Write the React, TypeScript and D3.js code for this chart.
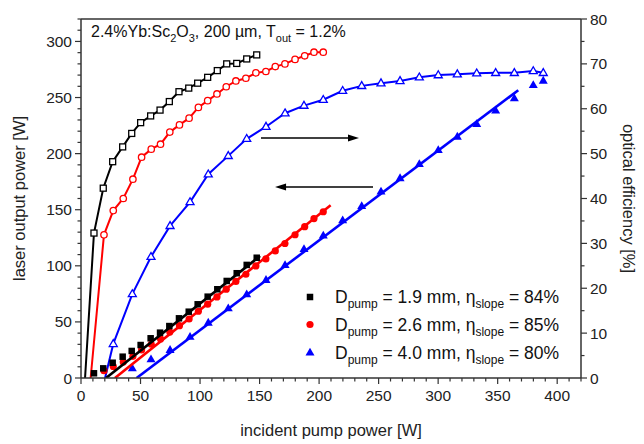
import React from "react";
import * as d3 from "d3";

// ---- data ----
// D_pump = 1.9 mm (black)
const blackPump = [10.9, 18.7, 26.6, 35.0, 42.6, 50.1, 58.5, 66.4, 74.2, 82.3, 90.5, 98.0, 106.4, 114.5, 122.4, 130.8, 139.2, 147.6];
const blackOutput = [4.2, 8.6, 13.6, 19.0, 24.1, 29.4, 35.4, 40.4, 46.3, 53.2, 59.1, 65.7, 72.5, 79.1, 86.5, 93.4, 100.8, 107.2];
const blackEff = [32.3, 42.3, 48.2, 51.5, 54.5, 56.9, 58.4, 59.7, 61.6, 63.8, 64.6, 65.7, 67.0, 68.5, 70.0, 70.1, 71.1, 72.0];
const blackThreshold = 3.4;

// D_pump = 2.6 mm (red)
const redPump = [19.3, 27.1, 35.5, 43.6, 50.9, 59.0, 66.8, 74.6, 82.7, 90.8, 98.6, 106.4, 114.2, 122.0, 130.1, 138.5, 146.9, 155.3, 163.2, 171.3, 179.8, 187.9, 195.7, 203.5];
const redOutput = [6.5, 10.3, 14.2, 19.3, 25.0, 30.1, 34.8, 40.9, 46.6, 52.6, 59.5, 65.8, 72.3, 79.2, 86.1, 92.5, 99.9, 106.1, 113.3, 119.9, 127.7, 134.9, 142.1, 148.2];
const redEff = [31.9, 37.3, 40.0, 44.3, 49.2, 51.0, 52.1, 54.8, 56.4, 57.9, 60.3, 61.8, 63.3, 64.9, 66.2, 66.8, 68.0, 68.3, 69.4, 70.0, 71.0, 71.8, 72.6, 72.6];
const redThreshold = 8.1;

// D_pump = 4.0 mm (blue)
const bluePump = [27.1, 43.1, 58.8, 74.8, 91.6, 106.9, 123.7, 139.2, 155.4, 171.4, 187.3, 203.5, 219.8, 235.8, 252.0, 268.0, 284.2, 300.1, 316.1, 332.4, 348.3, 364.0, 379.9, 388.3];
const blueOutput = [null, 8.6, 16.7, 25.0, 36.8, 49.3, 62.1, 74.6, 87.4, 100.7, 115.0, 127.0, 140.6, 153.3, 166.1, 178.1, 190.7, 203.2, 215.1, 226.4, 238.3, 249.3, 261.2, 265.0];
const blueEff = [7.6, 18.7, 27.0, 33.9, 39.2, 45.4, 49.5, 53.3, 56.0, 59.0, 60.7, 62.0, 64.0, 65.1, 65.7, 66.2, 67.0, 67.5, 67.7, 67.9, 68.0, 68.0, 68.4, 68.0];
const blueThreshold = 20.2;

// linear fits: slope, threshold, fit range end
const fitSlopes = [0.84, 0.85, 0.8];
const fitThresholds = [21, 28.5, 46.7];
const fitEnds = [150.4, 209.7, 367.3];

const legendLabels = [
  { dia: "1.9", slope: "84" },
  { dia: "2.6", slope: "85" },
  { dia: "4.0", slope: "80" },
];

const xTicks = [0, 50, 100, 150, 200, 250, 300, 350, 400];
const yLeftTicks = [0, 50, 100, 150, 200, 250, 300];
const yRightTicks = [0, 10, 20, 30, 40, 50, 60, 70, 80];

// arrows (data units)
const arrowRight = { x1: 151.2, x2: 233.5, eff: 53.5 };
const arrowLeft = { x1: 245.3, x2: 163.0, power: 170.3 };

const colors = ["#000000", "#ff0000", "#0000ff"];

export default function App() {
  const W = 644, H = 444;
  const left = 81, right = 581, top = 19, bottom = 378;
  const x = d3.scaleLinear().domain([0, 420]).range([left, right]);
  const yL = d3.scaleLinear().domain([0, 320]).range([bottom, top]);
  const yR = d3.scaleLinear().domain([0, 80]).range([bottom, top]);

  const series = [
    { pump: blackPump, out: blackOutput, eff: blackEff, th: blackThreshold, shape: "square" },
    { pump: redPump, out: redOutput, eff: redEff, th: redThreshold, shape: "circle" },
    { pump: bluePump, out: blueOutput, eff: blueEff, th: blueThreshold, shape: "triangle" },
  ];

  const line = d3.line<[number, number]>().x((d) => x(d[0])).y((d) => yR(d[1]));

  const marker = (shape: string, cx: number, cy: number, filled: boolean, color: string, key: string) => {
    const fill = filled ? color : "#fff";
    if (shape === "square") {
      const s = filled ? 6.5 : 6;
      return <rect key={key} x={cx - s / 2} y={cy - s / 2} width={s} height={s} fill={fill} stroke={color} strokeWidth={filled ? 0 : 1.3} />;
    }
    if (shape === "circle") {
      return <circle key={key} cx={cx} cy={cy} r={filled ? 3.6 : 3.2} fill={fill} stroke={color} strokeWidth={filled ? 0 : 1.3} />;
    }
    const s = filled ? 9 : 8;
    const h = s * 0.866;
    const p = `M${cx},${cy - h * 0.62}L${cx + s / 2},${cy + h * 0.38}L${cx - s / 2},${cy + h * 0.38}Z`;
    return <path key={key} d={p} fill={fill} stroke={color} strokeWidth={filled ? 0 : 1.3} />;
  };

  const font = "'Liberation Sans', Arial, sans-serif";
  const axisColor = "#333";

  const xMinor = d3.range(0, 421, 10);
  const yLMinor = d3.range(0, 321, 10);
  const yRMinor = d3.range(0, 81, 5);

  const order = [2, 1, 0];

  return (
    <svg width={W} height={H} style={{ position: "absolute", left: 0, top: 0, background: "#fff" }} fontFamily={font}>
      <defs>
        <clipPath id="plot">
          <rect x={left} y={top} width={right - left} height={bottom - top} />
        </clipPath>
      </defs>
      <rect x={0} y={0} width={W} height={H} fill="#fff" />

      <g clipPath="url(#plot)">
        {order.map((i) => {
          const s = series[i];
          const c = colors[i];
          const effPts: [number, number][] = [[s.th, 0], ...s.pump.map((p, j) => [p, s.eff[j]] as [number, number])];
          const fitLine = d3
            .line<number>()
            .x((w) => x(w))
            .y((w) => yL(fitSlopes[i] * (w - fitThresholds[i])))([fitThresholds[i], fitEnds[i]]);
          return (
            <g key={i}>
              <path d={line(effPts) || ""} fill="none" stroke={c} strokeWidth={2} />
              {s.pump.map((p, j) => marker(s.shape, x(p), yR(s.eff[j]), false, c, `e${j}`))}
              {s.pump.map((p, j) =>
                s.out[j] == null ? null : marker(s.shape, x(p), yL(s.out[j] as number), true, c, `o${j}`)
              )}
              <path d={fitLine || ""} fill="none" stroke={c} strokeWidth={2.6} />
            </g>
          );
        })}
      </g>

      {/* arrows */}
      <g stroke="#000" fill="#000">
        <line x1={x(arrowRight.x1)} x2={x(arrowRight.x2) - 9} y1={yR(arrowRight.eff)} y2={yR(arrowRight.eff)} strokeWidth={1.5} />
        <path d={`M${x(arrowRight.x2)},${yR(arrowRight.eff)}l-11,-3.5l0,7Z`} stroke="none" />
        <line x1={x(arrowLeft.x1)} x2={x(arrowLeft.x2) + 9} y1={yL(arrowLeft.power)} y2={yL(arrowLeft.power)} strokeWidth={1.5} />
        <path d={`M${x(arrowLeft.x2)},${yL(arrowLeft.power)}l11,-3.5l0,7Z`} stroke="none" />
      </g>

      {/* frame and axes */}
      <g stroke={axisColor} strokeWidth={1.5} fill="none">
        <line x1={left} x2={right} y1={top} y2={top} />
        <line x1={left} x2={right} y1={bottom} y2={bottom} />
        <line x1={left} x2={left} y1={top} y2={bottom} />
        <line x1={right} x2={right} y1={top} y2={bottom} />
      </g>
      <g stroke={axisColor} strokeWidth={1.2}>
        {xMinor.map((t) => (
          <line key={`xm${t}`} x1={x(t)} x2={x(t)} y1={bottom} y2={bottom + (t % 50 === 0 ? 6 : 3.5)} />
        ))}
        {yLMinor.map((t) => (
          <line key={`ylm${t}`} x1={left} x2={left - (t % 50 === 0 ? 6 : 3.5)} y1={yL(t)} y2={yL(t)} />
        ))}
        {yRMinor.map((t) => (
          <line key={`yrm${t}`} x1={right} x2={right + (t % 10 === 0 ? 6 : 3.5)} y1={yR(t)} y2={yR(t)} />
        ))}
      </g>
      <g fontSize={15.5} fill="#222">
        {xTicks.map((t) => (
          <text key={`xt${t}`} x={x(t)} y={bottom + 23} textAnchor="middle">{t}</text>
        ))}
        {yLeftTicks.map((t) => (
          <text key={`ylt${t}`} x={left - 9} y={yL(t) + 5.5} textAnchor="end">{t}</text>
        ))}
        {yRightTicks.map((t) => (
          <text key={`yrt${t}`} x={right + 9} y={yR(t) + 5.5} textAnchor="start">{t}</text>
        ))}
      </g>

      {/* axis titles */}
      <text x={(left + right) / 2} y={436} textAnchor="middle" fontSize={16.5} fill="#222">incident pump power [W]</text>
      <text transform={`translate(25,${(top + bottom) / 2}) rotate(-90)`} textAnchor="middle" fontSize={16.5} fill="#222">laser output power [W]</text>
      <text transform={`translate(623,${(top + bottom) / 2}) rotate(90)`} textAnchor="middle" fontSize={16.5} fill="#222">optical efficiency [%]</text>

      {/* title */}
      <text x={91} y={37} fontSize={16} fill="#111">
        2.4%Yb:Sc<tspan fontSize={11} dy={5}>2</tspan>
        <tspan dy={-5}>O</tspan>
        <tspan fontSize={11} dy={5}>3</tspan>
        <tspan dy={-5}>, 200 µm, T</tspan>
        <tspan fontSize={11} dy={5}>out</tspan>
        <tspan dy={-5}> = 1.2%</tspan>
      </text>

      {/* legend */}
      {legendLabels.map((l, i) => {
        const ly = [297, 324.5, 352.5][i];
        return (
          <g key={`lg${i}`}>
            {marker(series[i].shape, 310, ly, true, colors[i], `lm${i}`)}
            <text x={335} y={ly + 6} fontSize={17.5} fill="#111">
              D<tspan fontSize={12} dy={5}>pump</tspan>
              <tspan dy={-5}>{` = ${l.dia} mm, η`}</tspan>
              <tspan fontSize={12} dy={5}>slope</tspan>
              <tspan dy={-5}>{` = ${l.slope}%`}</tspan>
            </text>
          </g>
        );
      })}
    </svg>
  );
}
